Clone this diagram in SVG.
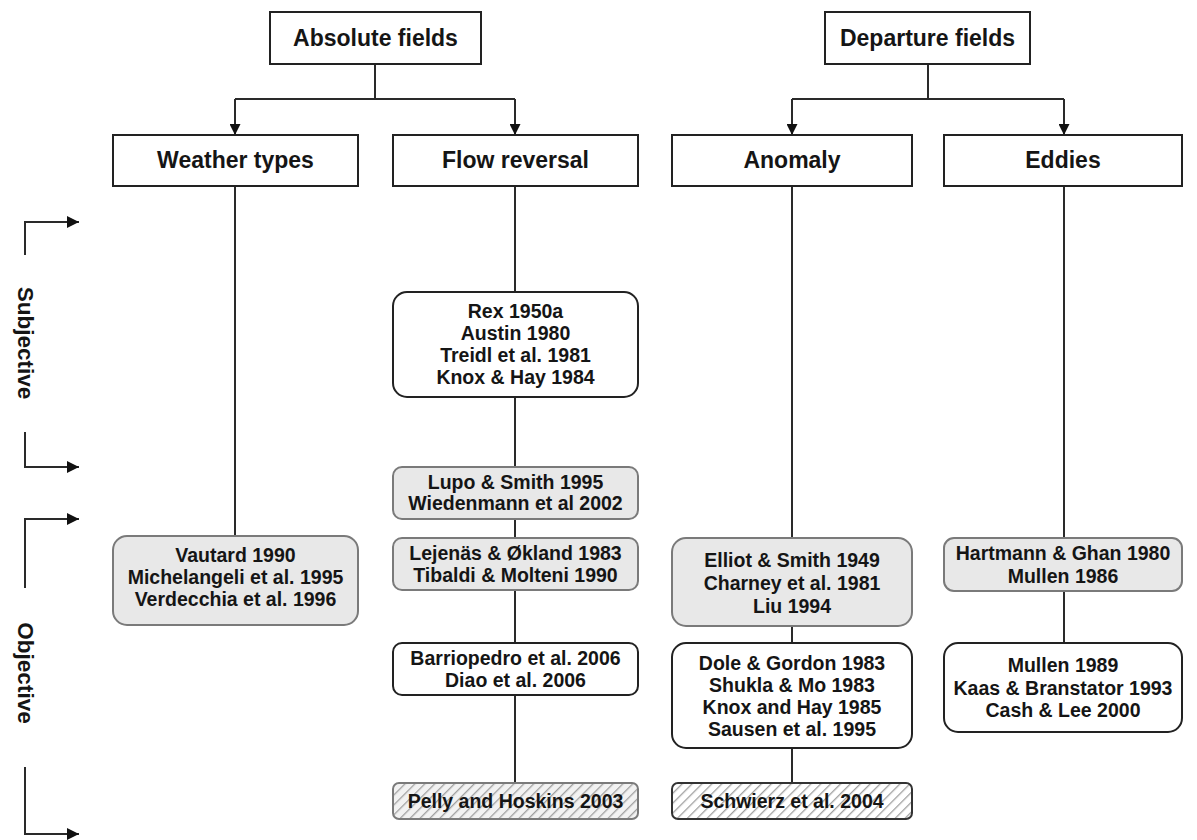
<svg xmlns="http://www.w3.org/2000/svg" width="1197" height="840" viewBox="0 0 1197 840">
<defs>
<marker id="arr" viewBox="0 0 10 10" refX="10" refY="5" markerWidth="14" markerHeight="12" markerUnits="userSpaceOnUse" orient="auto">
<path d="M0,0 L10,5 L0,10 z" fill="#111"/>
</marker>
<marker id="arrS" viewBox="0 0 10 10" refX="10" refY="5" markerWidth="12" markerHeight="11" markerUnits="userSpaceOnUse" orient="auto">
<path d="M0,0 L10,5 L0,10 z" fill="#111"/>
</marker>
<pattern id="hatch" width="7" height="7" patternUnits="userSpaceOnUse" patternTransform="rotate(45)">
<rect width="7" height="7" fill="#f2f2f2"/>
<line x1="0" y1="0" x2="0" y2="7" stroke="#a0a0a0" stroke-width="2.6"/>
</pattern>
<pattern id="hatchW" width="7" height="7" patternUnits="userSpaceOnUse" patternTransform="rotate(45)">
<rect width="7" height="7" fill="#fff"/>
<line x1="0" y1="0" x2="0" y2="7" stroke="#a0a0a0" stroke-width="2.6"/>
</pattern>
</defs>
<style>
.hdr{fill:#fff;stroke:#222;stroke-width:2}
.wb{fill:#fff;stroke:#222;stroke-width:2}
.gb{fill:#e8e8e8;stroke:#7a7a7a;stroke-width:2}
.hb{fill:url(#hatch);stroke:#7a7a7a;stroke-width:2}
.hbw{fill:url(#hatchW);stroke:#333;stroke-width:2}
text{font-family:"Liberation Sans",Arial,sans-serif;font-weight:bold;fill:#151515;text-anchor:middle}
.h{font-size:23px}
.t{font-size:19.5px}
.s{font-size:22.5px}
.ln{fill:none;stroke:#2a2a2a;stroke-width:2}
</style>
<rect width="1197" height="840" fill="#fff"/>

<g id="connectors">
<path class="ln" d="M375,64 V99"/>
<path class="ln" d="M235,99 H515"/>
<path class="ln" d="M235,99 V135" marker-end="url(#arrS)"/>
<path class="ln" d="M515,99 V135" marker-end="url(#arrS)"/>
<path class="ln" d="M928,64 V99"/>
<path class="ln" d="M792,99 H1064"/>
<path class="ln" d="M792,99 V135" marker-end="url(#arrS)"/>
<path class="ln" d="M1064,99 V135" marker-end="url(#arrS)"/>
<path class="ln" d="M235,186 V536"/>
<path class="ln" d="M515,186 V292 M515,397 V467 M515,519 V538 M515,590 V643 M515,695 V783"/>
<path class="ln" d="M792,186 V538 M792,626 V643 M792,748 V783"/>
<path class="ln" d="M1064,186 V538 M1064,591 V643"/>
<path class="ln" d="M25,255 V222 H79" marker-end="url(#arr)"/>
<path class="ln" d="M25,432 V467 H79" marker-end="url(#arr)"/>
<path class="ln" d="M25,588 V519 H79" marker-end="url(#arr)"/>
<path class="ln" d="M25,767 V834 H79" marker-end="url(#arr)"/>
</g>

<g id="label-subjective"><text class="s" transform="translate(25,343) rotate(90)" dominant-baseline="central">Subjective</text></g>
<g id="label-objective"><text class="s" transform="translate(25,673) rotate(90)" dominant-baseline="central">Objective</text></g>

<g id="absolute-fields"><rect class="hdr" x="270" y="12" width="211" height="52"/><text class="h" x="375.5" y="46">Absolute fields</text></g>
<g id="departure-fields"><rect class="hdr" x="825" y="12" width="205" height="52"/><text class="h" x="927.5" y="46">Departure fields</text></g>

<g id="weather-types"><rect class="hdr" x="113" y="135" width="245" height="51"/><text class="h" x="235.5" y="168">Weather types</text></g>
<g id="flow-reversal"><rect class="hdr" x="393" y="135" width="245" height="51"/><text class="h" x="515.5" y="168">Flow reversal</text></g>
<g id="anomaly"><rect class="hdr" x="672" y="135" width="240" height="51"/><text class="h" x="792" y="168">Anomaly</text></g>
<g id="eddies"><rect class="hdr" x="944" y="135" width="238" height="51"/><text class="h" x="1063" y="168">Eddies</text></g>

<g id="rex"><rect class="wb" x="393" y="292" width="245" height="105" rx="14"/>
<text class="t" x="515.5" y="318">Rex 1950a</text>
<text class="t" x="515.5" y="340">Austin 1980</text>
<text class="t" x="515.5" y="362">Treidl et al. 1981</text>
<text class="t" x="515.5" y="384">Knox &amp; Hay 1984</text></g>

<g id="lupo"><rect class="gb" x="393" y="467" width="245" height="52" rx="9"/>
<text class="t" x="515.5" y="489">Lupo &amp; Smith 1995</text>
<text class="t" x="515.5" y="510">Wiedenmann et al 2002</text></g>

<g id="lejenas"><rect class="gb" x="393" y="538" width="245" height="52" rx="9"/>
<text class="t" x="515.5" y="560">Lejenäs &amp; Økland 1983</text>
<text class="t" x="515.5" y="582">Tibaldi &amp; Molteni 1990</text></g>

<g id="barriopedro"><rect class="wb" x="393" y="643" width="245" height="52" rx="9"/>
<text class="t" x="515.5" y="665">Barriopedro et al. 2006</text>
<text class="t" x="515.5" y="687">Diao et al. 2006</text></g>

<g id="pelly"><rect class="hb" x="393" y="783" width="245" height="36" rx="6"/>
<text class="t" x="515.5" y="808">Pelly and Hoskins 2003</text></g>

<g id="vautard"><rect class="gb" x="113" y="536" width="245" height="89" rx="14"/>
<text class="t" x="235.5" y="562">Vautard 1990</text>
<text class="t" x="235.5" y="584">Michelangeli et al. 1995</text>
<text class="t" x="235.5" y="606">Verdecchia et al. 1996</text></g>

<g id="elliot"><rect class="gb" x="672" y="538" width="240" height="88" rx="14"/>
<text class="t" x="792" y="567">Elliot &amp; Smith 1949</text>
<text class="t" x="792" y="590">Charney et al. 1981</text>
<text class="t" x="792" y="613">Liu 1994</text></g>

<g id="dole"><rect class="wb" x="672" y="643" width="240" height="105" rx="14"/>
<text class="t" x="792" y="670">Dole &amp; Gordon 1983</text>
<text class="t" x="792" y="692">Shukla &amp; Mo 1983</text>
<text class="t" x="792" y="714">Knox and Hay 1985</text>
<text class="t" x="792" y="736">Sausen et al. 1995</text></g>

<g id="schwierz"><rect class="hbw" x="672" y="783" width="240" height="36" rx="6"/>
<text class="t" x="792" y="808">Schwierz et al. 2004</text></g>

<g id="hartmann"><rect class="gb" x="944" y="538" width="238" height="53" rx="10"/>
<text class="t" x="1063" y="560">Hartmann &amp; Ghan 1980</text>
<text class="t" x="1063" y="583">Mullen 1986</text></g>

<g id="mullen"><rect class="wb" x="944" y="643" width="238" height="89" rx="14"/>
<text class="t" x="1063" y="672">Mullen 1989</text>
<text class="t" x="1063" y="695">Kaas &amp; Branstator 1993</text>
<text class="t" x="1063" y="717">Cash &amp; Lee 2000</text></g>
</svg>
